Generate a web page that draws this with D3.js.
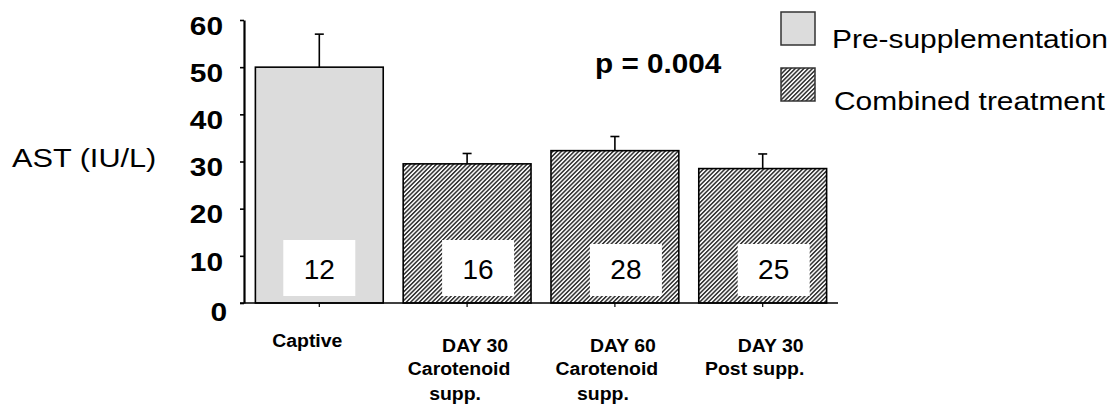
<!DOCTYPE html>
<html>
<head>
<meta charset="utf-8">
<script src="https://cdn.jsdelivr.net/npm/d3@7"></script>
<style>
  html, body { margin: 0; padding: 0; background: #fff; }
  svg { display: block; font-family: "Liberation Sans", Arial, sans-serif; }
</style>
</head>
<body>
<svg id="chart" width="1120" height="410"></svg>
<script>
// ---- data ----
const categories = ["Captive", "DAY 30 Carotenoid supp.", "DAY 60 Carotenoid supp.", "DAY 30 Post supp."];
const categoryLines = [["Captive"], ["DAY 30", "Carotenoid", "supp."], ["DAY 60", "Carotenoid", "supp."], ["DAY 30", "Post supp."]];
const meanValues = [50, 29.5, 32.3, 28.5];
const errorValues = [7, 2.2, 3.0, 3.1];
const sampleSizes = [12, 16, 28, 25];
const groupOf = ["Pre-supplementation", "Combined treatment", "Combined treatment", "Combined treatment"];
const legendGroups = ["Pre-supplementation", "Combined treatment"];
const yTicks = [0, 10, 20, 30, 40, 50, 60];
const yTitle = "AST (IU/L)";
const pLabel = "p = 0.004";

// ---- helpers ----
function stretch(sel, k) {
  sel.each(function () {
    const w = this.getComputedTextLength();
    d3.select(this).attr("textLength", w * k).attr("lengthAdjust", "spacingAndGlyphs");
  });
}

const svg = d3.select("#chart");
const defs = svg.append("defs");
const pat = defs.append("pattern")
  .attr("id", "hatch")
  .attr("patternUnits", "userSpaceOnUse")
  .attr("width", 3.05).attr("height", 10)
  .attr("patternTransform", "rotate(45)");
pat.append("rect").attr("width", 3.05).attr("height", 10).attr("fill", "#fff");
pat.append("line").attr("x1", 0.8).attr("x2", 0.8).attr("y1", 0).attr("y2", 10)
  .attr("stroke", "#383838").attr("stroke-width", 1.6);

const fillFor = g => g === legendGroups[0] ? "#dcdcdc" : "url(#hatch)";

// ---- scales ----
const x = d3.scaleBand().domain(categories).range([244, 838]).paddingInner(0.135).paddingOuter(0.077);
const y = d3.scaleLinear().domain([0, 60]).range([303, 20]);

// ---- bars ----
const data = categories.map((c, i) => ({ c, i, v: meanValues[i], e: errorValues[i], n: sampleSizes[i], g: groupOf[i], lines: categoryLines[i] }));

svg.append("g").selectAll("rect").data(data).join("rect")
  .attr("x", d => x(d.c))
  .attr("y", d => y(d.v))
  .attr("width", x.bandwidth())
  .attr("height", d => y(0) - y(d.v))
  .attr("fill", d => fillFor(d.g))
  .attr("stroke", "#000").attr("stroke-width", 1.6);

// error bars
const eb = svg.append("g").attr("stroke", "#000").attr("stroke-width", 1.6);
eb.selectAll("line.v").data(data).join("line").attr("class", "v")
  .attr("x1", d => x(d.c) + x.bandwidth() / 2).attr("x2", d => x(d.c) + x.bandwidth() / 2)
  .attr("y1", d => y(d.v)).attr("y2", d => y(d.v + d.e));
eb.selectAll("line.cap").data(data).join("line").attr("class", "cap")
  .attr("x1", d => x(d.c) + x.bandwidth() / 2 - 4.5).attr("x2", d => x(d.c) + x.bandwidth() / 2 + 4.5)
  .attr("y1", d => y(d.v + d.e)).attr("y2", d => y(d.v + d.e));

// sample-size boxes
const boxW = 72;
const boxOff = d => d.g === legendGroups[0] ? 0 : 11;
const boxTop = d => d.g === legendGroups[0] || d.i === 1 ? y(0) - 63 : y(0) - 59;
svg.append("g").selectAll("rect").data(data).join("rect")
  .attr("x", d => x(d.c) + x.bandwidth() / 2 - boxW / 2 + boxOff(d))
  .attr("y", d => boxTop(d))
  .attr("width", boxW)
  .attr("height", d => y(0) - 7 - boxTop(d))
  .attr("fill", "#fff");
svg.append("g").selectAll("text").data(data).join("text")
  .attr("x", d => x(d.c) + x.bandwidth() / 2 + boxOff(d))
  .attr("y", y(0) - 24)
  .attr("text-anchor", "middle")
  .attr("font-size", 28)
  .attr("fill", "#000")
  .text(d => d.n);

// ---- axes ----
const yAxis = d3.axisLeft(y).tickValues(yTicks).tickSize(4).tickSizeOuter(0).tickPadding(17);
const gy = svg.append("g").attr("transform", "translate(244,0)").call(yAxis);
gy.select(".domain").attr("stroke", "#000").attr("stroke-width", 2.2);
gy.selectAll(".tick line").attr("stroke", "#000").attr("stroke-width", 1.6);
gy.selectAll(".tick text")
  .attr("font-family", "'Liberation Sans', Arial, sans-serif")
  .attr("font-size", 26).attr("font-weight", "bold").attr("fill", "#000")
  .attr("transform", d => `translate(${d === 0 ? 4 : 0},${d === 0 ? 9 : 6})`)
  .call(stretch, 1.15);

// baseline
svg.append("line")
  .attr("x1", 240).attr("x2", 838).attr("y1", y(0)).attr("y2", y(0))
  .attr("stroke", "#000").attr("stroke-width", 1.6);

const xAxis = d3.axisBottom(x).tickSize(4).tickSizeOuter(0).tickFormat("");
const gx = svg.append("g").attr("transform", `translate(0,${y(0)})`).call(xAxis);
gx.select(".domain").remove();
gx.selectAll(".tick line").attr("stroke", "#000").attr("stroke-width", 1.2);

// category labels
const lineDx = [8, -8, -12];
const lineY = [352, 375, 400];
const cl = svg.append("g").attr("font-size", 18).attr("font-weight", "bold").attr("fill", "#000");
data.forEach(d => {
  d.lines.forEach((t, j) => {
    const single = d.lines.length === 1;
    cl.append("text")
      .attr("x", x(d.c) + x.bandwidth() / 2 + (single ? -12 : lineDx[j]))
      .attr("y", single ? 347 : lineY[j])
      .attr("text-anchor", "middle")
      .text(t)
      .call(stretch, 1.08);
  });
});

// y title
svg.append("text").attr("x", 12).attr("y", 167)
  .attr("font-size", 26).attr("fill", "#000").text(yTitle).call(stretch, 1.18);

// p value
svg.append("text").attr("x", 595).attr("y", 73)
  .attr("font-size", 27).attr("font-weight", "bold").attr("fill", "#000").text(pLabel)
  .call(stretch, 1.1);

// legend
const legY = [12, 68];
const lg = svg.append("g");
legendGroups.forEach((g, i) => {
  lg.append("rect").attr("x", 781).attr("y", legY[i]).attr("width", 34).attr("height", 33)
    .attr("fill", fillFor(g)).attr("stroke", "#333").attr("stroke-width", 1.5);
  lg.append("text").attr("x", i === 0 ? 832 : 834).attr("y", i === 0 ? 48 : 110)
    .attr("font-size", 26).attr("fill", "#000").text(g).call(stretch, 1.15);
});
</script>
</body>
</html>
